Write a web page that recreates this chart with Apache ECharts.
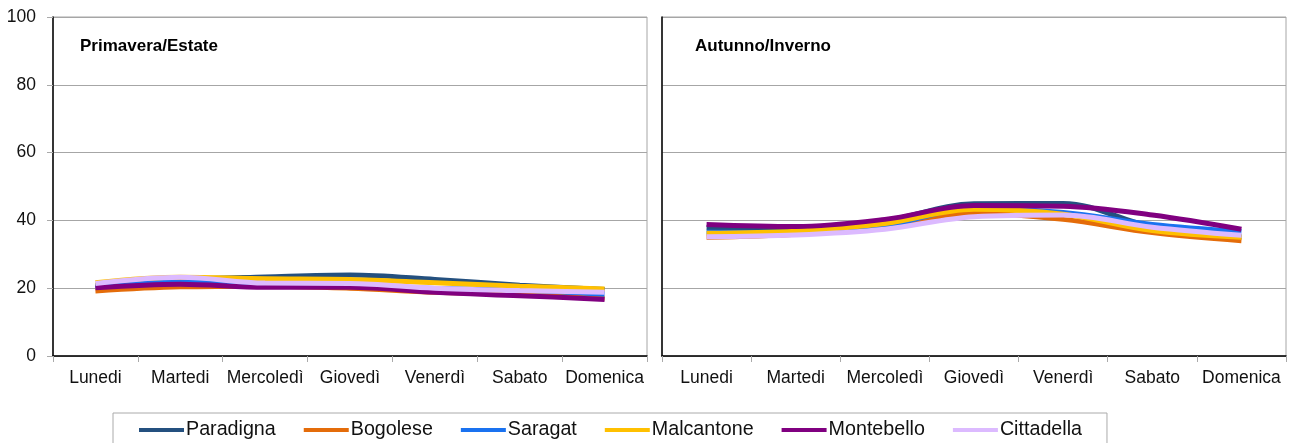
<!DOCTYPE html>
<html>
<head>
<meta charset="utf-8">
<script src="https://cdn.jsdelivr.net/npm/echarts@6/dist/echarts.min.js"></script>
<style>
  html, body { margin: 0; padding: 0; background: #fff; }
  #chart { width: 1290px; height: 443px; }
</style>
</head>
<body>
<div id="chart"></div>
<script>
// data
const days = ['Lunedi', 'Martedi', 'Mercoledì', 'Giovedì', 'Venerdì', 'Sabato', 'Domenica']
const yTicks = [0, 20, 40, 60, 80, 100]
const names = ['Paradigna', 'Bogolese', 'Saragat', 'Malcantone', 'Montebello', 'Cittadella']

// Primavera/Estate
const paradignaPE = [20.8, 22.5, 23.3, 23.9, 22.6, 20.9, 19.6]
const bogolesePE = [19.2, 20.4, 20.6, 20.0, 18.8, 18.2, 17.0]
const saragatPE = [20.6, 21.9, 21.0, 21.0, 19.9, 19.5, 18.2]
const malcantonePE = [21.6, 23.2, 22.8, 22.6, 21.6, 20.6, 19.8]
const montebelloPE = [20.1, 21.2, 20.3, 20.3, 18.8, 17.8, 16.7]
const cittadellaPE = [21.4, 23.2, 21.5, 21.4, 20.0, 19.3, 18.8]

// Autunno/Inverno
const paradignaAI = [37.9, 37.8, 39.9, 44.9, 45.0, 38.1, 35.2]
const bogoleseAI = [35.0, 35.9, 38.1, 42.1, 40.3, 36.4, 34.0]
const saragatAI = [36.5, 36.4, 38.4, 43.6, 42.3, 38.8, 36.7]
const malcantoneAI = [36.2, 36.8, 39.1, 43.3, 41.8, 37.0, 35.0]
const montebelloAI = [38.8, 38.2, 40.3, 44.4, 44.2, 41.6, 37.4]
const cittadellaAI = [35.2, 35.7, 37.4, 41.1, 41.6, 38.0, 35.6]

const colorList = ['#24507f', '#e46c0a', '#1a72f0', '#ffc000', '#800080', '#dcbaff']
const font = 'Liberation Sans, Arial, sans-serif'

const chart = echarts.init(document.getElementById('chart'))

const seriesPE = [paradignaPE, bogolesePE, saragatPE, malcantonePE, montebelloPE, cittadellaPE]
const seriesAI = [paradignaAI, bogoleseAI, saragatAI, malcantoneAI, montebelloAI, cittadellaAI]

const seriesList = []
;[seriesPE, seriesAI].forEach((group, g) => {
  group.forEach((values, index) => {
    seriesList.push({
      name: names[index],
      type: 'line',
      xAxisIndex: g,
      yAxisIndex: g,
      data: values,
      smooth: 0.35,
      symbol: 'none',
      lineStyle: { color: colorList[index], width: 5 },
      itemStyle: { color: colorList[index] },
      emphasis: { disabled: true }
    })
  })
})

function xAxis(gridIndex) {
  return {
    type: 'category',
    gridIndex: gridIndex,
    data: days,
    boundaryGap: true,
    axisLine: { lineStyle: { color: '#000', width: 1.5 } },
    axisTick: { show: true, length: 6, lineStyle: { color: '#aaa' } },
    axisLabel: { color: '#111', fontSize: 17.5, fontFamily: font, margin: 13, interval: 0 }
  }
}

function yAxis(gridIndex, labels) {
  return {
    type: 'value',
    gridIndex: gridIndex,
    min: yTicks[0],
    max: yTicks[yTicks.length - 1],
    interval: 20,
    axisLine: { show: true, lineStyle: { color: '#000', width: 1.5 } },
    axisTick: { show: labels, length: 6, lineStyle: { color: '#aaa' } },
    axisLabel: { show: labels, color: '#111', fontSize: 17.5, fontFamily: font, margin: 17 },
    splitLine: { lineStyle: { color: '#a6a6a6', width: 1 } }
  }
}

const option = {
  animation: false,
  backgroundColor: '#fff',
  title: [
    { text: 'Primavera/Estate', left: 75, top: 33,
      textStyle: { fontSize: 17, fontWeight: 'bold', fontFamily: font, color: '#000' } },
    { text: 'Autunno/Inverno', left: 690, top: 33,
      textStyle: { fontSize: 17, fontWeight: 'bold', fontFamily: font, color: '#000' } }
  ],
  legend: {
    data: names,
    left: 113,
    top: 413,
    icon: 'rect',
    itemWidth: 45,
    itemHeight: 4,
    itemGap: 28,
    padding: [7, 25, 20, 26],
    borderColor: '#aaa',
    borderWidth: 1,
    textStyle: { fontSize: 19.7, fontFamily: font, color: '#111', padding: [0, 0, 0, -3] }
  },
  grid: [
    { left: 53, top: 17, width: 594, height: 339, show: true, borderColor: '#a6a6a6', borderWidth: 1 },
    { left: 662, top: 17, width: 624, height: 339, show: true, borderColor: '#a6a6a6', borderWidth: 1 }
  ],
  xAxis: [xAxis(0), xAxis(1)],
  yAxis: [yAxis(0, true), yAxis(1, false)],
  series: seriesList
}
option && chart.setOption(option)
</script>
</body>
</html>
